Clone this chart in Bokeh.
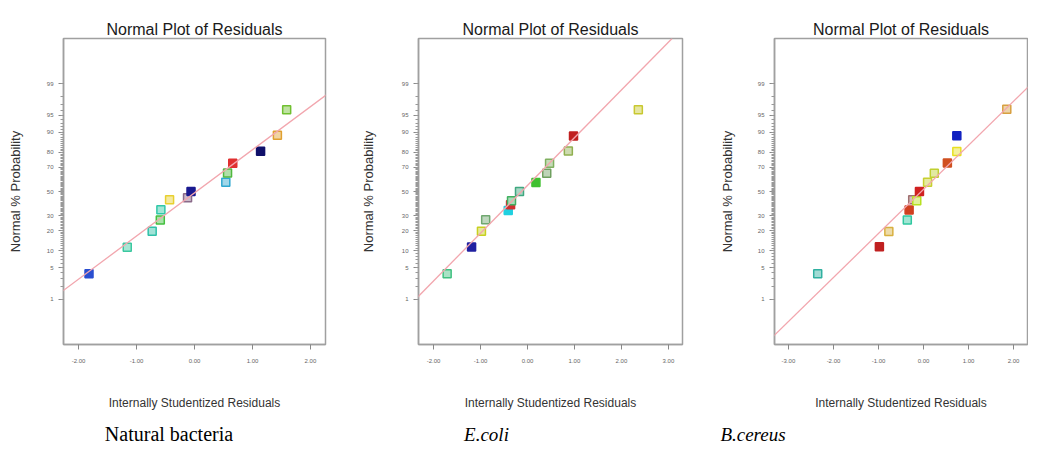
from statistics import NormalDist
from bokeh.plotting import figure
from bokeh.models import FixedTicker, NumeralTickFormatter, Slope, ColumnDataSource, Range1d
from bokeh.layouts import row, column
from bokeh.core.properties import value
from bokeh.embed import file_html
from bokeh.resources import INLINE

# ---------------- data ----------------
prob_ticks = [1, 5, 10, 20, 30, 50, 70, 80, 90, 95, 99]
prob_minor = list(range(1, 100))

# Natural bacteria
nb_resid = [-1.82, -1.16, -0.73, -0.59, -0.58, -0.43, -0.12, -0.06, 0.54, 0.57, 0.66, 1.14, 1.43, 1.59]
nb_prob = [3.8, 11.5, 19.5, 27.0, 34.7, 42.9, 44.6, 50.0, 58.0, 65.6, 72.9, 80.8, 88.7, 96.1]
nb_fit = (0.93, -0.03)          # reference line: slope, intercept (probit scale)
nb_xticks = [-2, -1, 0, 1, 2]

# E.coli
ec_resid = [-1.71, -1.19, -0.98, -0.89, -0.41, -0.36, -0.34, -0.17, 0.18, 0.41, 0.47, 0.87, 0.98, 2.36]
ec_prob = [3.8, 11.6, 19.5, 27.1, 34.0, 38.7, 42.0, 50.0, 57.6, 65.3, 72.8, 80.9, 88.4, 96.1]
ec_fit = (1.03, 0.13)
ec_xticks = [-2, -1, 0, 1, 2, 3]

# B.cereus
bc_resid = [-2.35, -0.98, -0.77, -0.36, -0.32, -0.24, -0.15, -0.09, 0.09, 0.24, 0.53, 0.74, 0.74, 1.85]
bc_prob = [3.8, 11.7, 19.4, 27.0, 34.5, 43.0, 42.0, 50.0, 57.9, 65.4, 73.0, 80.6, 88.5, 96.2]
bc_fit = (0.95, 0.045)
bc_xticks = [-3, -2, -1, 0, 1, 2]

captions = ["Natural bacteria", "E.coli", "B.cereus"]

# ---------------- styles ----------------
nb_colors = ["#2a4ed0", "#3cc8a0", "#30c0a8", "#44c040", "#30c8a8", "#e8d030", "#8a6a8a",
             "#1a1a90", "#30a8d0", "#50b840", "#e03030", "#10106a", "#e0a030", "#70c030"]
nb_solid = [1, 0, 0, 0, 0, 0, 0, 1, 0, 0, 1, 1, 0, 0]
ec_colors = ["#40c080", "#2020a0", "#c8d020", "#70a870", "#20d0e0", "#d03030", "#40b060",
             "#40a880", "#40c030", "#70a060", "#80b060", "#90b050", "#c02020", "#c8c830"]
ec_solid = [0, 1, 0, 0, 1, 1, 0, 0, 1, 0, 0, 0, 1, 0]
bc_colors = ["#30b0a0", "#c02020", "#d8b040", "#30c8a0", "#d04020", "#a07070", "#b8e020",
             "#d02020", "#c8d030", "#c0d030", "#d05020", "#e8e020", "#1020c0", "#d8a040"]
bc_solid = [0, 1, 0, 0, 1, 0, 0, 1, 0, 0, 1, 0, 1, 0]

ND = NormalDist()


def z(p):
    return ND.inv_cdf(p / 100.0)


def lighten(hexc, f=0.55):
    r, g, b = int(hexc[1:3], 16), int(hexc[3:5], 16), int(hexc[5:7], 16)
    r, g, b = [int(c + (255 - c) * f) for c in (r, g, b)]
    return "#%02x%02x%02x" % (r, g, b)


SANS = "Liberation Sans"
GRAY = "#a0a0a0"
TOP = 38
FH = 306


def panel(resid, prob, fit, xticks, xr, colors, solid, bl, fw, br, ylab_standoff):
    p = figure(frame_width=fw, frame_height=FH, output_backend="svg", toolbar_location=None,
               x_range=Range1d(*xr), y_range=Range1d(-3.3, 3.3),
               min_border_left=bl, min_border_right=br, min_border_top=TOP,
               min_border_bottom=50,
               title="Normal Plot of Residuals")
    p.title.align = "center"
    p.title.text_font = SANS
    p.title.text_font_style = "normal"
    p.title.text_font_size = "16px"
    p.title.text_color = "#1a1a1a"
    p.title.standoff = 2
    p.grid.visible = False
    p.outline_line_color = GRAY
    p.outline_line_width = 1.5
    p.background_fill_color = "white"
    p.border_fill_color = "white"

    # x axis
    xa = p.xaxis[0]
    xa.ticker = FixedTicker(ticks=xticks, minor_ticks=[])
    xa.formatter = NumeralTickFormatter(format="0.00")
    xa.axis_label = "Internally Studentized Residuals"
    xa.axis_label_text_font = SANS
    xa.axis_label_text_font_style = "normal"
    xa.axis_label_text_font_size = "12px"
    xa.axis_label_text_color = "#333333"
    xa.axis_label_standoff = 30
    xa.major_label_text_font_size = "6px"
    xa.major_label_text_color = "#666666"
    xa.major_label_standoff = 9
    xa.major_tick_in = 0
    xa.major_tick_out = 5
    xa.major_tick_line_color = "#888888"
    xa.axis_line_color = GRAY
    xa.axis_line_width = 1.5

    # y axis (probit scale)
    ya = p.yaxis[0]
    ya.ticker = FixedTicker(ticks=[z(t) for t in prob_ticks],
                            minor_ticks=[z(t) for t in prob_minor])
    ya.major_label_overrides = {z(t): str(t) for t in prob_ticks}
    ya.axis_label = "Normal % Probability"
    ya.axis_label_text_font = SANS
    ya.axis_label_text_font_style = "normal"
    ya.axis_label_text_font_size = "13px"
    ya.axis_label_text_color = "#333333"
    ya.axis_label_standoff = ylab_standoff
    ya.major_label_text_font_size = "6px"
    ya.major_label_text_color = "#666666"
    ya.major_label_standoff = 5
    ya.major_label_orientation = "horizontal"
    ya.major_tick_in = 0
    ya.major_tick_out = 5
    ya.minor_tick_in = 0
    ya.minor_tick_out = 3
    ya.major_tick_line_color = "#888888"
    ya.minor_tick_line_color = "#999999"
    ya.axis_line_color = GRAY
    ya.axis_line_width = 1.5

    # reference line
    p.add_layout(Slope(gradient=fit[0], y_intercept=fit[1],
                       line_color="#f2a6ae", line_width=1.3))

    fills = [c if s else lighten(c) for c, s in zip(colors, solid)]
    src = ColumnDataSource(dict(x=resid, y=[z(v) for v in prob],
                                lc=colors, fc=fills))
    p.scatter("x", "y", source=src, marker="square", size=8,
              line_color="lc", fill_color="fc", line_width=1.5)
    return p


p1 = panel(nb_resid, nb_prob, nb_fit, nb_xticks, (-2.26, 2.26), nb_colors, nb_solid,
           63, 262, 31, 21)
p2 = panel(ec_resid, ec_prob, ec_fit, ec_xticks, (-2.32, 3.30), ec_colors, ec_solid,
           62, 264, 33, 23)
p3 = panel(bc_resid, bc_prob, bc_fit, bc_xticks, (-3.31, 2.31), bc_colors, bc_solid,
           59, 253, 1, 20)

# caption strip (pixel coordinates)
CW, CH = 1028, 38
cap = figure(width=CW, height=CH, output_backend="svg", toolbar_location=None,
             x_range=Range1d(0, CW), y_range=Range1d(0, CH), min_border=0)
cap.axis.visible = False
cap.grid.visible = False
cap.outline_line_color = None
cap.background_fill_color = "white"
cap.border_fill_color = "white"
cap.text(x=[168.5], y=[16.5], text=[captions[0]], text_font=value("Liberation Serif"),
         text_font_size="20px", text_align="center", text_baseline="middle",
         text_color="black")
cap.text(x=[486, 752.5], y=[16.5, 16.5], text=captions[1:], text_font=value("Liberation Serif"),
         text_font_size="19px", text_font_style="italic", text_align="center",
         text_baseline="middle", text_color="black")

layout = column(row(p1, p2, p3, spacing=0), cap, spacing=0)
open("out.html", "w").write(file_html(layout, INLINE))
